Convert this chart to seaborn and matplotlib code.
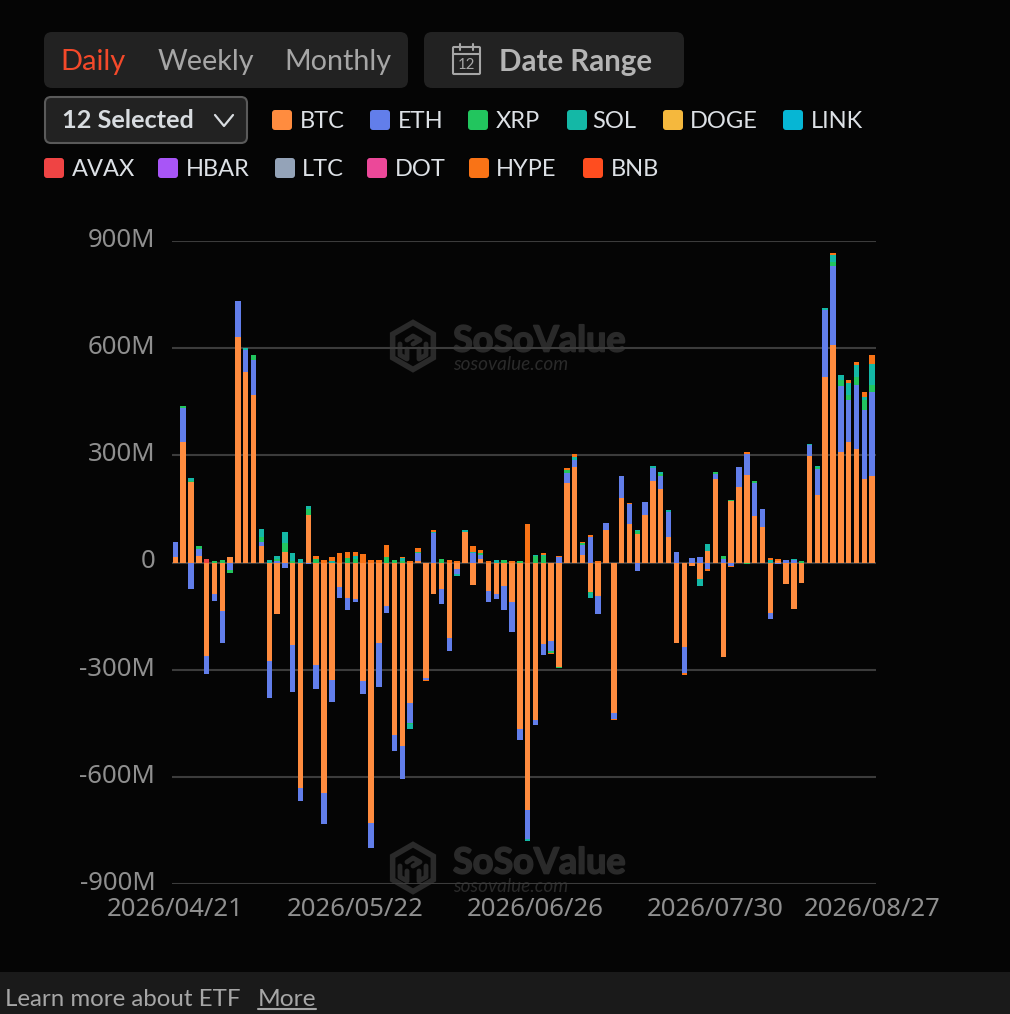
"""SoSoValue style ETF daily net flow chart, stacked bars on a dark page."""

import matplotlib
matplotlib.use('Agg')
import matplotlib.pyplot as plt
import pandas as pd
import seaborn as sns
from matplotlib.patches import FancyBboxPatch, RegularPolygon, Rectangle
from matplotlib.patheffects import withStroke
from matplotlib.transforms import ScaledTranslation

# ── Data (million USD) ────────────────────────────────────────
holidays = ['2026-05-25', '2026-06-19', '2026-07-03']
dates = [d for d in pd.bdate_range('2026-04-21', '2026-08-27')
         if d.strftime('%Y-%m-%d') not in holidays]
labels = [d.strftime('%Y/%m/%d') for d in dates]
shown_dates = ['2026/04/21', '2026/05/22', '2026/06/26', '2026/07/30', '2026/08/27']

btc = [14, 338, 224, 17, -262, -88, -137, 15, 632, 534,
       469, 47, -275, -143, 29, -232, -632, 133, -288, -646,
       -328, -69, -100, -103, -332, -730, -226, -122, -482, -513,
       -394, 4, -323, -89, -75, -211, -17, 86, -62, 11,
       -80, -88, -65, -111, -465, -693, -442, -228, -219, -292,
       223, 268, 21, -83, -93, 91, -422, 181, 108, 80,
       133, 229, 205, 70, -224, -236, -11, -46, 33, 234,
       -264, 171, 212, 245, 131, 100, -142, 3, -60, -130,
       -56, 298, 190, 518, 608, 309, 338, 317, 234, 243]
eth = [43, 95, -75, 22, -50, -21, -87, -21, 100, 60,
       98, 11, -104, 3, -15, -130, -37, -5, -66, -86,
       -63, -29, -32, -7, -35, -68, -123, -20, -45, -93,
       -54, 22, -5, 83, -42, -36, -16, 0, 26, 9,
       -30, -13, -67, -84, -32, -81, -13, -30, -28, 16,
       28, 20, 29, 72, -52, 19, -15, 60, 55, -25,
       37, 36, 38, 72, 28, -73, 12, 16, -17, 15,
       10, -10, 55, 60, 92, 49, -16, -3, 8, 8,
       0, 32, 72, 189, 221, 185, 118, 179, 193, 235]
xrp = [0, 4, 3, 8, 0, 5, 6, -7, 0, 0,
       13, 14, 0, 6, 25, 5, 0, 17, 10, 0,
       0, 0, 12, 10, 0, 0, 0, 15, 6, 5,
       -4, 4, 0, 0, 9, 0, 0, 0, 0, 6,
       0, 0, 7, 0, 4, 0, 18, 17, -6, -2,
       8, 0, 4, -3, 0, 0, 0, 0, 0, 7,
       0, 0, 6, 0, 0, 0, 0, 0, 0, 5,
       8, 3, 0, -3, 4, 0, 0, 0, 0, 0,
       4, 0, 5, 0, 12, 18, 13, 24, 28, 20]
sol = [0, 0, 10, 0, 0, 0, 0, 0, 0, 7,
       0, 21, 7, 8, 30, 21, 10, 7, 0, 0,
       5, 0, 0, 8, 0, 0, 0, 0, 0, 7,
       -13, 0, 0, 3, 0, 0, -5, 4, 4, 0,
       0, 7, 0, 0, 0, -5, 3, 4, 0, 0,
       0, 7, 0, -12, 0, 0, 0, 0, 0, 3,
       0, 6, 5, 5, 0, 0, 0, -20, 20, 0,
       0, 0, 0, 0, 0, 0, 7, 0, 0, 3,
       0, 3, 3, 6, 20, 13, 34, 33, 9, 59]
hype = [0, 0, 0, 0, 0, 0, 0, 0, 0, 0,
        0, 0, 0, 0, 0, 0, 0, 0, 7, 8,
        11, 27, 17, 11, 24, 6, 6, 33, 0, 3,
        5, 10, -3, 5, 0, 6, 3, 0, 15, 9,
        5, 0, 0, 3, 0, 108, 0, 5, -3, 3,
        5, 9, 3, 4, 3, 0, -4, 0, 3, 0,
        0, 0, 0, 0, 0, -6, 0, 0, -8, 0,
        0, -2, 0, 3, 2, 0, 5, 6, 0, 0,
        0, 0, 0, 0, 6, 0, 7, 9, 14, 25]
avax = [0, 0, 0, 0, 10, 0, 0, 0, 0, 0,
        0, 0, 0, 0, 0, 0, 0, 0, 0, 0,
        0, 0, 0, 0, 0, 0, 0, 0, 0, 0,
        0, 0, 0, 0, 0, 0, 0, 0, 0, 0,
        0, 0, 0, 0, 0, 0, 0, 0, 0, 0,
        0, 0, 0, 0, 0, 0, 0, 0, 0, 0,
        0, 0, 0, 0, 0, 0, 0, 0, 0, 0,
        0, 0, 0, 0, 0, 0, 0, 0, 0, 0,
        0, 0, 0, 0, 0, 0, 0, 0, 0, 0]

stack_order = [('BTC', btc), ('ETH', eth), ('XRP', xrp), ('SOL', sol), ('AVAX', avax), ('HYPE', hype)]
legend_row1 = ['BTC', 'ETH', 'XRP', 'SOL', 'DOGE', 'LINK']
legend_row2 = ['AVAX', 'HBAR', 'LTC', 'DOT', 'HYPE', 'BNB']
yticks = [-900, -600, -300, 0, 300, 600, 900]

# ── Style ─────────────────────────────────────────────────────
colors = {'BTC': '#FF8C3F', 'ETH': '#627EEA', 'XRP': '#22C55E', 'SOL': '#14B8A6',
          'DOGE': '#F5B83D', 'LINK': '#06B6D4', 'AVAX': '#EF4444', 'HBAR': '#A855F7',
          'LTC': '#94A3B8', 'DOT': '#EC4899', 'HYPE': '#F97316', 'BNB': '#FF4D1F'}
swatch_x = {'BTC': 272, 'ETH': 370, 'XRP': 468, 'SOL': 567, 'DOGE': 663, 'LINK': 783,
            'AVAX': 44, 'HBAR': 158, 'LTC': 275, 'DOT': 367, 'HYPE': 469, 'BNB': 583}
name_x = {'BTC': 300, 'ETH': 398, 'XRP': 496, 'SOL': 592, 'DOGE': 690, 'LINK': 811,
          'AVAX': 72, 'HBAR': 186, 'LTC': 302, 'DOT': 395, 'HYPE': 496, 'BNB': 611}

W, H = 1010, 1014
BG = '#050505'
MARK = '#2A2A2A'
PX = 0.72  # px → pt at dpi 100

sns.set_theme(style='dark', rc={'axes.facecolor': 'none', 'figure.facecolor': BG})
plt.rcParams['font.family'] = ['Lato', 'DejaVu Sans']

fig = plt.figure(figsize=(W / 100, H / 100), dpi=100)


def px_axes(left, top, right, bottom, **kw):
    return fig.add_axes([left / W, 1 - bottom / H, (right - left) / W, (bottom - top) / H], **kw)


ui = px_axes(0, 0, W, H, zorder=0)
ui.set_xlim(0, W)
ui.set_ylim(H, 0)
ui.axis('off')


def box(x, y, w, h, color, edge='none', r=8, lw=0):
    ui.add_patch(FancyBboxPatch((x + r, y + r), w - 2 * r, h - 2 * r, boxstyle=f'round,pad={r}',
                                fc=color, ec=edge, lw=lw))


# ── Top controls ──────────────────────────────────────────────
box(44, 32, 364, 56, '#222222')
box(424, 32, 260, 56, '#222222')
ui.text(60, 62, 'Daily', color='#F4492A', fontsize=29 * PX, va='center')
ui.text(158, 62, 'Weekly', color='#A6A6A6', fontsize=28.7 * PX, va='center')
ui.text(284, 62, 'Monthly', color='#A6A6A6', fontsize=28.7 * PX, va='center')
ui.text(499, 62, 'Date Range', color='#B4B4B4', fontsize=29.5 * PX, va='center', fontweight='bold')

# calendar icon
ui.add_patch(FancyBboxPatch((454, 48), 25, 25, boxstyle='round,pad=1', fc='none', ec='#A6A6A6', lw=1.5))
ui.plot([453, 480], [54, 54], color='#A6A6A6', lw=1.5)
ui.plot([460, 460], [44, 50], color='#A6A6A6', lw=1.5)
ui.plot([473, 473], [44, 50], color='#A6A6A6', lw=1.5)
ui.text(466.5, 65, '12', color='#A6A6A6', fontsize=15 * PX, ha='center', va='center')

box(45, 97, 202, 46, '#222222', edge='#5A5A5A', r=6, lw=1.5)
ui.text(62, 121, '12 Selected', color='#D8DCE0', fontsize=25.2 * PX, va='center', fontweight='bold')
ui.plot([215, 224, 233], [115, 126, 115], color='#D8DCE0', lw=1.6)

for row, y in ((legend_row1, 120), (legend_row2, 168)):
    for name in row:
        box(swatch_x[name], y - 10, 20, 20, colors[name], r=3)
        ui.text(name_x[name], y + 2, name, color='#DDE1E6', fontsize=23.6 * PX, va='center')

# ── Watermarks (behind the bars) ──────────────────────────────
logo_lines = [[(-6, -6), (0, -10), (7, -6), (0, -2)],
              [(-13, -2), (-13, 9), (-6, 13), (-6, 3)],
              [(13, -2), (13, 9), (6, 13), (6, 3)]]
for cy in (346, 868):
    ui.add_patch(RegularPolygon((413, cy), 6, radius=23.5, fc='none', ec=MARK, lw=4))
    for line in logo_lines:
        ui.plot([413 + p[0] for p in line], [cy + p[1] for p in line], color=MARK, lw=3.5)
    ui.text(453, cy - 5, 'SoSoValue', color=MARK, fontsize=36 * PX, va='center', fontweight='bold',
            path_effects=[withStroke(linewidth=1.2, foreground=MARK)])
    ui.text(453, cy + 18.5, 'sosovalue.com', color=MARK, fontsize=19 * PX, va='center', style='italic')

# ── Footer ────────────────────────────────────────────────────
ui.add_patch(Rectangle((0, 972), W, 42, fc='#1A1A1A', ec='none'))
ui.text(5, 1000, 'Learn more about ETF', color='#A6A6A6', fontsize=24 * PX, va='center')
ui.text(258, 1000, 'More', color='#A6A6A6', fontsize=24.5 * PX, va='center')
ui.plot([258, 316], [1009, 1009], color='#A6A6A6', lw=1.5)

# ── Stacked bars ──────────────────────────────────────────────
ax = px_axes(172, 241, 876, 884, zorder=1)

pos_base = [0.0] * len(labels)
neg_base = [0.0] * len(labels)
for name, values in stack_order:
    bottoms = [pos_base[i] if v >= 0 else neg_base[i] for i, v in enumerate(values)]
    sns.barplot(x=labels, y=values, bottom=bottoms, color=colors[name], saturation=1,
                width=0.7, linewidth=0, errorbar=None, ax=ax, zorder=3)
    for i, v in enumerate(values):
        if v >= 0:
            pos_base[i] += v
        else:
            neg_base[i] += v

ax.set_xlim(-0.42, 89.49)
ax.set_ylim(-900, 900)
ax.set_yticks(yticks)
ax.set_yticklabels([f'{v}M' if v else '0' for v in yticks], family='Noto Sans')
ax.set_xticks([labels.index(d) for d in shown_dates])
ax.set_xticklabels(shown_dates, family='Noto Sans')
ax.tick_params(axis='both', length=0, labelsize=25.7 * PX, labelcolor='#8F8F8F')
ax.tick_params(axis='y', pad=12)
ax.tick_params(axis='x', pad=9)
ax.grid(axis='y', color='#3C3C3C', lw=1.5, zorder=0)
ax.grid(axis='x', visible=False)
ax.set_axisbelow(True)
ax.set_xlabel('')
ax.set_ylabel('')
sns.despine(ax=ax, left=True, bottom=True)

# y labels sit a little above their grid lines
lift = ScaledTranslation(0, 3.5 / 100, fig.dpi_scale_trans)
for lab in ax.get_yticklabels():
    lab.set_transform(lab.get_transform() + lift)

fig.savefig('out.png', dpi=100, facecolor=BG)
plt.close(fig)
